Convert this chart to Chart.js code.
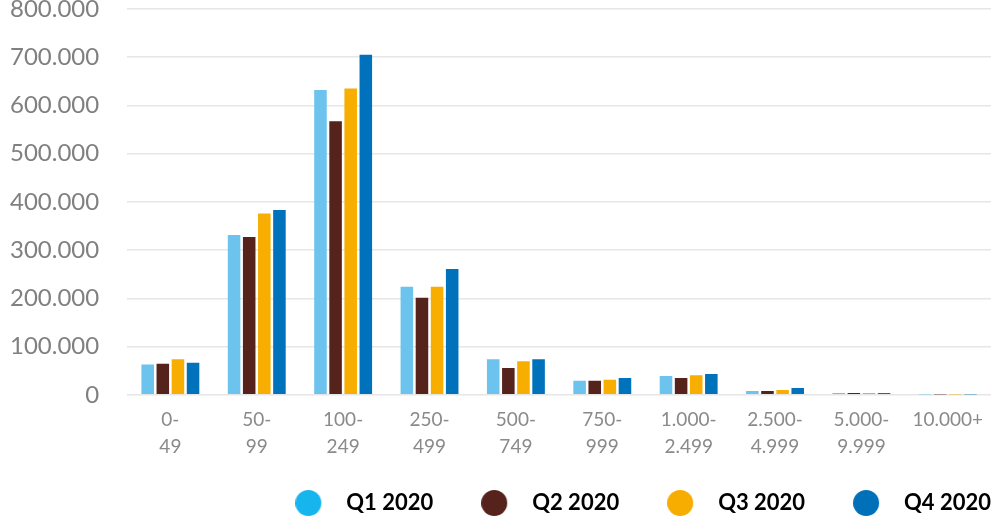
<!DOCTYPE html>
<html>
<head>
<meta charset="utf-8">
<script src="https://cdn.jsdelivr.net/npm/chart.js@4.4.0/dist/chart.umd.min.js"></script>
<style>
  html, body { margin: 0; padding: 0; background: #fff; }
  #wrap { width: 997px; height: 521px; }
</style>
</head>
<body>
<div id="wrap"><canvas id="sizeChart"></canvas></div>
<script>
// Catégories (tranches) et valeurs par trimestre
var categories = [['0-', '49'], ['50-', '99'], ['100-', '249'], ['250-', '499'], ['500-', '749'],
                  ['750-', '999'], ['1.000-', '2.499'], ['2.500-', '4.999'], ['5.000-', '9.999'], '10.000+'];
var seriesNames = ['Q1 2020', 'Q2 2020', 'Q3 2020', 'Q4 2020'];
var q1 = [63000, 331500, 632000, 224000, 73500, 29000, 39000, 7700, 3500, 400];
var q2 = [64500, 327000, 567000, 201000, 55500, 29000, 35000, 7700, 3500, 400];
var q3 = [73500, 376000, 635000, 224000, 69500, 31000, 40500, 9800, 3500, 400];
var q4 = [66500, 383000, 705000, 261000, 73500, 35000, 43000, 14000, 3500, 400];
var yTicks = [0, 100000, 200000, 300000, 400000, 500000, 600000, 700000, 800000];

var barColors = ['#6cc3ee', '#55231c', '#f7ae00', '#0072bc'];
var legendColors = ['#17b5ee', '#55231b', '#f7ac00', '#0070b9'];

function fmt(v) {
    // séparateur de milliers avec un point
    return String(v).replace(/\B(?=(\d{3})+(?!\d))/g, '.');
}

// pastille ronde de la légende, calée à gauche d'une boîte plus large
function makeDot(color) {
    var c = document.createElement('canvas');
    c.width = 40;
    c.height = 28;
    var g = c.getContext('2d');
    g.fillStyle = color;
    g.beginPath();
    g.arc(13, 14, 13, 0, Math.PI * 2);
    g.fill();
    return c;
}
var legendDots = legendColors.map(makeDot);

var allSeries = [q1, q2, q3, q4];
var datasets = allSeries.map(function (vals, i) {
    return {
        label: seriesNames[i],
        data: vals,
        backgroundColor: barColors[i],
        borderWidth: 0,
        barPercentage: 0.83,
        categoryPercentage: 0.7
    };
});

// légende : hauteur réduite, remontée et calée à droite
var legendFit = {
    id: 'legendFit',
    beforeLayout: function (chart) {
        var lg = chart.legend;
        if (!lg || lg._wrapped) return;
        var fit = lg.fit;
        lg.fit = function () {
            fit.call(this);
            this.height = 49;
        };
        lg._wrapped = true;
    },
    afterLayout: function (chart) {
        var lg = chart.legend;
        lg.right += lg.options.labels.padding;
        lg.top -= 28;
    }
};

var ctx = document.getElementById('sizeChart').getContext('2d');
var sizeChart = new Chart(ctx, {
    type: 'bar',
    data: { labels: categories, datasets: datasets },
    plugins: [legendFit],
    options: {
        responsive: true,
        maintainAspectRatio: false,
        animation: false,
        layout: { padding: { top: 0, right: 6, left: -18, bottom: 0 } },
        plugins: {
            tooltip: { enabled: false },
            legend: {
                position: 'bottom',
                align: 'end',
                labels: {
                    usePointStyle: true,
                    pointStyleWidth: 40,
                    boxHeight: 22,
                    padding: 48,
                    color: '#1a1a1a',
                    font: { family: 'Lato', size: 22, weight: 'bold' },
                    generateLabels: function (chart) {
                        return seriesNames.map(function (name, i) {
                            return {
                                text: name,
                                fillStyle: legendColors[i],
                                strokeStyle: legendColors[i],
                                lineWidth: 0,
                                pointStyle: legendDots[i],
                                datasetIndex: i,
                                hidden: false
                            };
                        });
                    }
                }
            }
        },
        scales: {
            x: {
                grid: { display: false, drawTicks: false },
                border: { display: false },
                ticks: {
                    color: '#8a8a8a',
                    font: { family: 'Lato', size: 19, lineHeight: 1.4 },
                    maxRotation: 0,
                    autoSkip: false,
                    padding: 12
                }
            },
            y: {
                min: 0,
                max: 800000,
                afterBuildTicks: function (axis) {
                    axis.ticks = yTicks.map(function (v) { return { value: v }; });
                },
                afterFit: function (axis) {
                    axis.paddingTop = 9;
                    axis.paddingBottom = 14;
                },
                grid: { color: '#e6e6e6', lineWidth: 1.5, drawTicks: false },
                border: { display: false },
                ticks: {
                    color: '#808080',
                    font: { family: 'Lato', size: 24 },
                    padding: 28,
                    callback: function (v) { return fmt(v); }
                }
            }
        }
    }
});
</script>
</body>
</html>
